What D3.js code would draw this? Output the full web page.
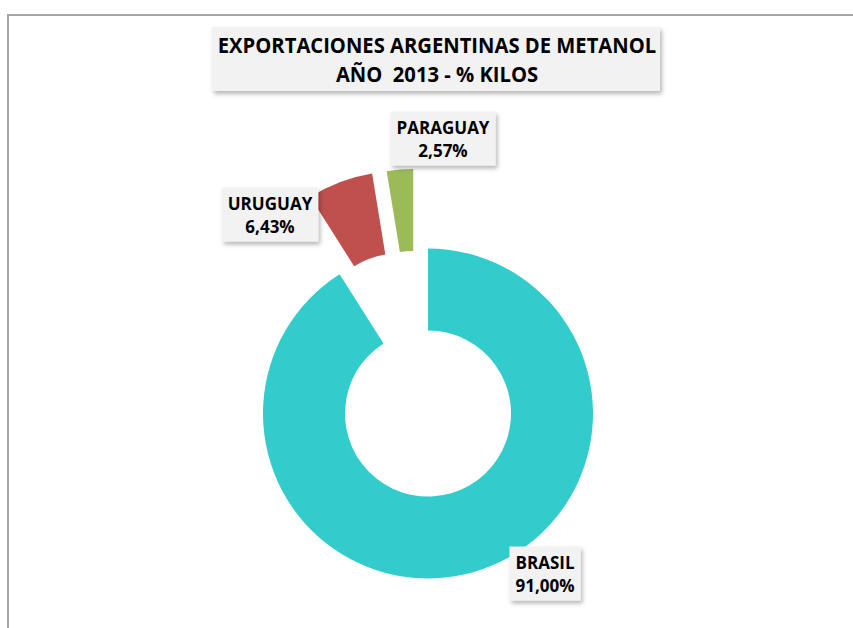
<!DOCTYPE html>
<html>
<head>
<meta charset="utf-8">
<script src="https://cdn.jsdelivr.net/npm/d3@7/dist/d3.min.js"></script>
<style>
  body { margin: 0; background: #fff; }
  text { font-family: "Open Sans", "DejaVu Sans", sans-serif; font-weight: bold; fill: #000; }
</style>
</head>
<body>
<script>
// data
var countries = ["BRASIL", "URUGUAY", "PARAGUAY"];
var shares = [91.00, 6.43, 2.57];
var colors = ["#33CCCC", "#C0504D", "#9BBB59"];
var titleLines = ["EXPORTACIONES ARGENTINAS DE METANOL", "AÑO  2013 - % KILOS"];

var width = 853;
var height = 628;

// donut geometry
var cx = 428, cy = 413.5;
var outerR = 165, innerR = 83;
// explosion: share of radius, plus angle shift (degrees) from slice bisector
var explodePct = [0, 0.5, 0.49];
var explodeShift = [0, 0, -5.9];
// label box centres, relative to donut centre
var labelPos = [[117, 160], [-158, -199], [15, -275]];

var locale = d3.formatLocale({ decimal: ",", thousands: ".", grouping: [3], currency: ["", ""] });
var fmt = locale.format(".2f");

var svg = d3.select("body").append("svg")
    .attr("width", width)
    .attr("height", height);

var defs = svg.append("defs");
var shadow = defs.append("filter")
    .attr("id", "shadow")
    .attr("x", "-20%").attr("y", "-20%")
    .attr("width", "150%").attr("height", "160%");
shadow.append("feDropShadow")
    .attr("dx", 2).attr("dy", 3)
    .attr("stdDeviation", 2.2)
    .attr("flood-color", "#000")
    .attr("flood-opacity", 0.28);

// chart area border
svg.append("rect")
    .attr("x", 8).attr("y", 15)
    .attr("width", 900).attr("height", 700)
    .attr("fill", "#fff")
    .attr("stroke", "#a6a6a6")
    .attr("stroke-width", 2);

// title
var titleG = svg.append("g");
titleG.append("rect")
    .attr("x", 212).attr("y", 27)
    .attr("width", 448).attr("height", 64)
    .attr("fill", "#f2f2f2")
    .attr("filter", "url(#shadow)");

titleG.selectAll("text")
    .data(titleLines)
    .enter()
    .append("text")
    .attr("x", 437)
    .attr("y", function(d, i) { return 53 + i * 29; })
    .attr("text-anchor", "middle")
    .style("font-size", "22px")
    .style("white-space", "pre")
    .text(function(d) { return d; })
    .each(squeezeText(0.918));

// donut
var pie = d3.pie().sort(null).value(function(d) { return d; });
var arcs = pie(shares);
var arc = d3.arc().innerRadius(innerR).outerRadius(outerR);

var g = svg.append("g")
    .attr("transform", "translate(" + cx + "," + cy + ")");

g.selectAll("path")
    .data(arcs)
    .enter()
    .append("path")
    .attr("d", arc)
    .attr("fill", function(d, i) { return colors[i]; })
    .attr("transform", function(d, i) {
        var a = (d.startAngle + d.endAngle) / 2 + explodeShift[i] * Math.PI / 180;
        var dist = explodePct[i] * outerR;
        return "translate(" + (dist * Math.sin(a)) + "," + (-dist * Math.cos(a)) + ")";
    });

// data labels
var labels = g.selectAll("g.label")
    .data(arcs)
    .enter()
    .append("g")
    .attr("class", "label")
    .attr("transform", function(d, i) {
        return "translate(" + labelPos[i][0] + "," + labelPos[i][1] + ")";
    });

labels.each(function(d, i) {
    var lg = d3.select(this);
    var box = lg.append("rect")
        .attr("fill", "#f2f2f2")
        .attr("filter", "url(#shadow)");
    var lines = [countries[i], fmt(shares[i]) + "%"];
    lg.selectAll("text")
        .data(lines)
        .enter()
        .append("text")
        .attr("x", 0)
        .attr("y", function(t, j) { return -5 + j * 23.5; })
        .attr("text-anchor", "middle")
        .style("font-size", "18.5px")
        .text(function(t) { return t; })
        .each(squeezeText(0.92));
    var w = d3.max(lg.selectAll("text").nodes(), function(n) { return +n.getAttribute("textLength"); });
    box.attr("x", -w / 2 - 6)
        .attr("y", -27)
        .attr("width", w + 12)
        .attr("height", 54);
});

function squeezeText(k) {
    return function() {
        var len = this.getComputedTextLength();
        d3.select(this)
            .attr("textLength", len * k)
            .attr("lengthAdjust", "spacingAndGlyphs");
    };
}
</script>
</body>
</html>
